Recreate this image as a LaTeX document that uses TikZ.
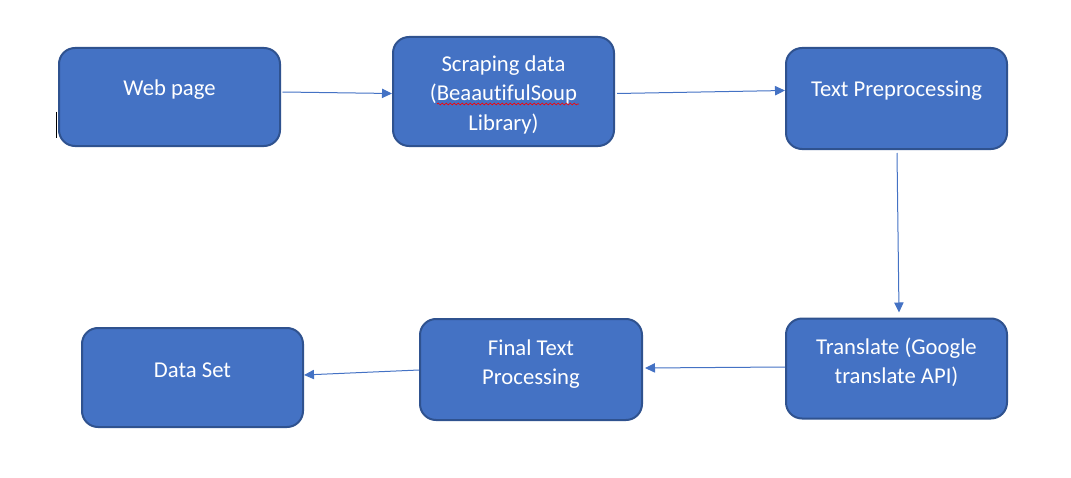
\documentclass[tikz,border=0pt]{standalone}
\usepackage{fontspec}
\setmainfont{Carlito}[Ligatures=NoCommon]
\usetikzlibrary{arrows.meta,decorations.pathmorphing}
\definecolor{boxfill}{HTML}{4472C4}
\definecolor{boxline}{HTML}{2F528F}
\definecolor{arrowc}{HTML}{4472C4}
\begin{document}
\begin{tikzpicture}[x=0.75pt,y=-0.75pt,
  box/.style={draw=boxline, fill=boxfill, line width=1.5pt, rounded corners=12pt,
    inner sep=0pt, minimum width=165.75pt},
  txt/.style={text=white, inner sep=0pt, anchor=base,
    font=\fontsize{17pt}{21.75pt}\selectfont},
  conn/.style={draw=arrowc, line width=0.75pt, -{Triangle[length=7.5pt,width=7pt]}}]
\useasboundingbox (0,0) rectangle (1071,478);
% boxes
\node[box, minimum height=73.5pt] (web) at (169.5,97) {};
\node[box, minimum height=81.75pt] (scr) at (503.5,91.5) {};
\node[box, minimum height=75.75pt] (pre) at (896.5,98.5) {};
\node[box, minimum height=75pt] (tra) at (896.5,368.5) {};
\node[box, minimum width=166.5pt, minimum height=75.75pt] (fin) at (531,369.5) {};
\node[box, minimum height=74.25pt] (dat) at (192.5,377.5) {};
% texts
\node[txt] (webt) at (169.5,96) {Web page};
\node[txt] (scrt1) at (503.5,72) {Scraping data};
\node[txt] (scrt2) at (503.5,101) {(BeaautifulSoup};
\node[txt] (scrt3) at (503.5,130) {Library)};
\node[txt] (pret) at (896.5,97) {Text Preprocessing};
\node[txt] (trat1) at (896.5,354) {Translate (Google};
\node[txt] (trat2) at (896.5,383) {translate API)};
\node[txt] (fint1) at (531,355) {Final Text};
\node[txt] (fint2) at (531,384) {Processing};
\node[txt] (datt) at (192.5,377) {Data Set};
% spell-check underline
\coordinate (sqa) at (437,104);
\coordinate (sqb) at (579,104);
\draw[red, line width=0.5pt, decorate, decoration={snake, amplitude=0.7pt, segment length=3pt}] (sqa) -- (sqb);
% cursor mark
\coordinate (cura) at (56.5,112);
\coordinate (curb) at (56.5,138);
\draw[black, line width=0.9pt] (cura) -- (curb);
% connectors
\draw[conn] ([shift={(1.5,-5)}]web.east) -- ([shift={(0,2)}]scr.west);
\draw[conn] ([shift={(2,2)}]scr.east) -- ([shift={(0,-8)}]pre.west);
\draw[conn] ([shift={(0.5,3)}]pre.south) -- ([shift={(2.5,-5)}]tra.north);
\draw[conn] ([shift={(0,-1.5)}]tra.west) -- ([shift={(2,-1.5)}]fin.east);
\draw[conn] ([shift={(0,0.5)}]fin.west) -- ([shift={(0,-2.5)}]dat.east);
\end{tikzpicture}
\end{document}
